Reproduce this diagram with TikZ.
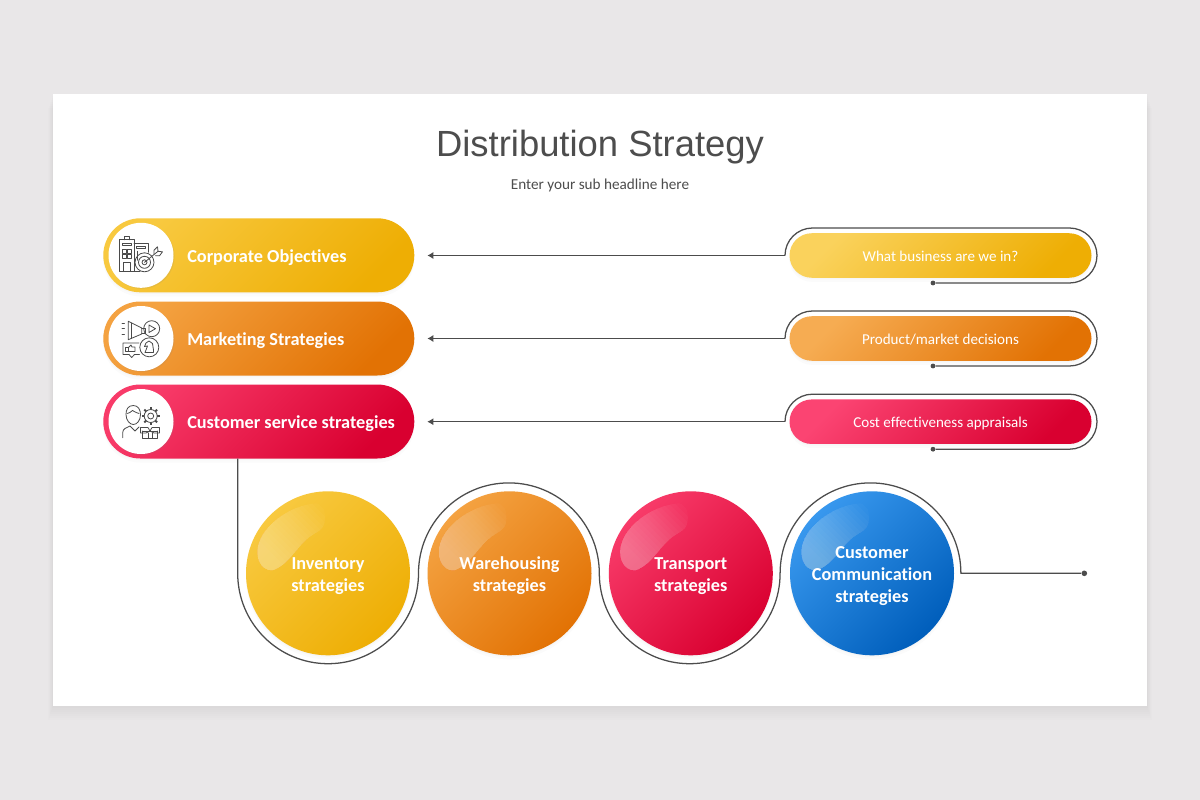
\documentclass[tikz,border=0pt]{standalone}
\usepackage{fontspec}
\setmainfont[Ligatures=NoCommon]{Carlito}
\newfontfamily\titlefont{Liberation Sans}
\usetikzlibrary{arrows.meta,shapes.misc,shadows}
\definecolor{pagegrey}{HTML}{E9E7E8}
\definecolor{wiregrey}{HTML}{4C4C4C}
\definecolor{inkgrey}{HTML}{4A4A4A}
\definecolor{titlegrey}{HTML}{4D4D4D}
\definecolor{yellow1}{HTML}{FAD25C}
\definecolor{yellow2}{HTML}{EEAE04}
\definecolor{yellow3}{HTML}{F8C93F}
\definecolor{orange1}{HTML}{F6AC52}
\definecolor{orange2}{HTML}{E27204}
\definecolor{orange3}{HTML}{F4A241}
\definecolor{red1}{HTML}{FB4472}
\definecolor{red2}{HTML}{D90030}
\definecolor{red3}{HTML}{F83B69}
\definecolor{blue2}{HTML}{005EBB}
\definecolor{blue3}{HTML}{3898EE}
\tikzset{
	softshadow/.style={drop shadow={opacity=.035,shadow xshift=0pt,shadow yshift=-1.2pt},drop shadow={opacity=.03,shadow xshift=0pt,shadow yshift=-3pt}},
	yellowfill/.style={top color=yellow1,bottom color=yellow2,shading angle=45},
	orangefill/.style={top color=orange1,bottom color=orange2,shading angle=45},
	redfill/.style={top color=red1,bottom color=red2,shading angle=45},
	yellowdeep/.style={top color=yellow3,bottom color=yellow2,shading angle=45},
	orangedeep/.style={top color=orange3,bottom color=orange2,shading angle=45},
	reddeep/.style={top color=red3,bottom color=red2,shading angle=45},
	bluedeep/.style={top color=blue3,bottom color=blue2,shading angle=45},
	bigpill/.style={rounded rectangle,minimum width=233.25pt,minimum height=55.5pt,inner sep=0pt,softshadow},
	smallpill/.style={rounded rectangle,minimum width=226.5pt,minimum height=33.4pt,inner sep=0pt,softshadow,text=white,text height=9.5pt,text depth=1pt,font=\fontsize{11.3}{13}\selectfont},
	pilltext/.style={anchor=west,inner sep=0pt,text=white,text height=12pt,text depth=1pt,font=\bfseries\fontsize{13.7}{16}\selectfont},
	iconback/.style={circle,fill=white,minimum size=48.75pt,inner sep=0pt,drop shadow={opacity=.12,shadow xshift=.8pt,shadow yshift=-.8pt}},
	ball/.style={circle,minimum size=123pt,inner sep=0pt,softshadow,
		path picture={
			\begin{scope}[shift={(path picture bounding box.center)}]
				\clip (-12,-70) .. controls (-40,-68) and (-70,-45) .. (-70.7,-22)
					.. controls (-71,-8) and (-62,-2) .. (-55,-3)
					.. controls (-40,-8) and (-32,-25) .. (-20,-35)
					.. controls (-12,-42) and (-3,-42) .. (-3,-55)
					.. controls (-3,-64) and (-6,-70) .. (-12,-70) -- cycle;
				\foreach \c in {60,54,...,-36}
					\fill[white,opacity=.024] ({\c-100},-100) -- ({\c+50},50) -- (-300,50) -- (-300,-100) -- cycle;
			\end{scope}
		}},
	balltext/.style={inner sep=0pt,align=center,text=white,yshift=-3.4pt,execute at begin node=\strut,font=\bfseries\fontsize{13.7}{16.5}\selectfont},
	wire/.style={wiregrey,line width=.95pt},
	enddot/.style={circle,fill=wiregrey,inner sep=0pt,minimum size=3.6pt},
	iconline/.style={inkgrey,line width=.6pt,line join=round,line cap=round}
}
\begin{document}
\begin{tikzpicture}[x=.75pt,y=-.75pt]
	\useasboundingbox (0,0) rectangle (1200,800);
	\fill[pagegrey] (0,0) rectangle (1200,800);
	\foreach \d in {14,12,...,2}
		\fill[black,opacity=.008] ({53-\d/3},{94+\d}) rectangle ({1147+\d/3},{706+\d});
	\fill[white] (53,94) rectangle (1147,706);

	% headline
	\node[inner sep=0pt,text=titlegrey,font=\titlefont\fontsize{27.3}{32}\selectfont] (headline) at (600,147) {Distribution Strategy};
	\node[inner sep=0pt,text=titlegrey,font=\fontsize{11.4}{13}\selectfont] (subheadline) at (600,185) {Enter your sub headline here};

	% left column
	\node[bigpill,yellowdeep] (corporate) at (258.8,255.3) {};
	\node[bigpill,orangedeep] (marketing) at (258.8,338.5) {};
	\node[bigpill,reddeep] (service) at (258.8,421.5) {};
	\node[iconback] (corporateicon) at (141,255.3) {};
	\node[iconback] (marketingicon) at (141,338.5) {};
	\node[iconback] (serviceicon) at (141,421.5) {};
	\node[pilltext] (corporatetext) at (187,255.3) {Corporate Objectives};
	\node[pilltext] (marketingtext) at (187,338.5) {Marketing Strategies};
	\node[pilltext] (servicetext) at (187,421.5) {Customer service strategies};

	% building and target
	\begin{scope}[shift={(corporateicon.center)},iconline]
		\draw (-21.5,16) -- (-21.5,-15.5) -- (-7,-15.5) -- (-7,16) -- cycle;
		\draw (-17,-15.5) -- (-17,-19) -- (-12,-19) -- (-12,-15.5);
		\draw (-19,-12) rectangle (-10,-9.5);
		\draw (-19,-6) rectangle (-15,-2);
		\draw (-14,-6) rectangle (-10,-2);
		\draw (-19,-1) rectangle (-15,3);
		\draw (-14,-1) rectangle (-10,3);
		\draw (-18,16) -- (-18,7) -- (-11,7) -- (-11,16);
		\draw (-7,-12) -- (7,-12) -- (7,-3);
		\draw (-4.5,-9) rectangle (4.5,-6.5);
		\draw (-7,16) -- (-1,16);
		\draw (-4,-4) -- (-4,5);
		\draw (3.5,7) circle[radius=9.5];
		\draw (3.5,7) circle[radius=6];
		\draw (3.5,7) circle[radius=2.5];
		\draw (3.5,7) -- (17,-4);
		\draw (13,-1) -- (13,-5) -- (16.5,-8.5) -- (17,-4);
		\draw (14.5,.5) -- (18.5,.5) -- (21.5,-3.5) -- (17,-4);
	\end{scope}

	% megaphone, play button, chat and knight
	\begin{scope}[shift={(marketingicon.center)},iconline]
		\draw (-12.7,-17.2) -- (.7,-10.5) -- (.7,-4.5) -- (-12.7,1.2) -- cycle;
		\draw (-9.5,-15.5) -- (-9.5,0);
		\draw (.7,-10) -- (4,-10) -- (4,-5) -- (.7,-5);
		\draw (-19,-15.5) -- (-16.5,-15.5);
		\draw (-19,-9.8) -- (-16.5,-9.8);
		\draw (-19,-3.8) -- (-16.5,-3.8);
		\draw (10.7,-9.8) circle[radius=8];
		\draw (8,-13.5) -- (14.5,-9.8) -- (8,-6) -- cycle;
		\draw (8.3,8.8) circle[radius=9.5];
		\draw (4,14) -- (12.5,14) -- (12.5,11.5) -- (11.5,5) -- (8,2.5) -- (5,4.5) -- (3.5,8) -- (6.5,7.5) -- (5,11.5) -- (4,14) -- cycle;
		\draw (-1.5,16) -- (-6.5,16) -- (-9.3,19) -- (-12,16) -- (-18,16) -- (-18,4.5) -- (-2,4.5);
		\draw (-15.5,13) rectangle (-13,8.5);
		\draw (-12.5,9) -- (-10,6.5) -- (-9,8.5) -- (-6,8.5) -- (-6,13) -- (-12.5,13);
	\end{scope}

	% person, gear and parcel
	\begin{scope}[shift={(serviceicon.center)},iconline]
		\draw (-7.7,-16) .. controls (-13,-16) and (-15,-12) .. (-15,-7) .. controls (-15,-1) and (-11,3) .. (-7.7,3) .. controls (-4,3) and (-.5,-1) .. (-.5,-7) .. controls (-.5,-12) and (-3,-16) .. (-7.7,-16) -- cycle;
		\draw (-13.5,-8) .. controls (-12,-8) and (-10,-10) .. (-8.5,-11) .. controls (-6,-10) and (-4,-8) .. (-2,-8);
		\draw (-18.3,16.2) -- (-18.3,11) .. controls (-18.3,7) and (-14,6) .. (-11,4.5) -- (-6,9.5) -- (-2,5.5);
		\draw (9.7,-5.5) circle[radius=6.5];
		\draw (9.7,-5.5) circle[radius=3];
		\foreach \a in {0,45,...,315}
			\draw[line width=1.5pt,line cap=butt] (9.7,-5.5) ++(\a:6.5) -- ++(\a:2.5);
		\draw (1.7,9.5) -- (1.7,16.8) -- (16.3,16.8) -- (16.3,9.5);
		\draw (1.7,9.5) -- (16.3,9.5);
		\draw (-.5,6) -- (7,6) -- (9,9.5) -- (5,11.5) -- (-.5,11.5) -- cycle;
		\draw (18.5,6) -- (11,6) -- (9,9.5) -- (13,11.5) -- (18.5,11.5) -- cycle;
		\draw (7,11.5) -- (7,16.8);
		\draw (11,11.5) -- (11,16.8);
	\end{scope}

	% right column
	\node[smallpill,yellowfill] (business) at (940.5,255.5) {What business are we in?};
	\node[smallpill,orangefill] (decisions) at (940.5,338.5) {Product/market decisions};
	\node[smallpill,redfill] (appraisals) at (940.5,421.7) {Cost effectiveness appraisals};
	\node[enddot] (businessdot) at (933,283) {};
	\node[enddot] (decisionsdot) at (933,366) {};
	\node[enddot] (appraisalsdot) at (933,449.2) {};
	\coordinate (businessring) at (785,255.5);
	\coordinate (decisionsring) at (785,338.5);
	\coordinate (appraisalsring) at (785,421.7);
	\draw[wire] (businessring) arc[start angle=180,end angle=270,radius=27.5] -- (1069.5,228) arc[start angle=270,end angle=450,radius=27.5] -- (businessdot);
	\draw[wire] (decisionsring) arc[start angle=180,end angle=270,radius=27.5] -- (1069.5,311) arc[start angle=270,end angle=450,radius=27.5] -- (decisionsdot);
	\draw[wire] (appraisalsring) arc[start angle=180,end angle=270,radius=27.5] -- (1069.5,394.2) arc[start angle=270,end angle=450,radius=27.5] -- (appraisalsdot);
	\draw[wire,-{Latex[length=4.6pt,width=5.4pt]},shorten >=9.5pt] (businessring) -- (corporate.east |- businessring);
	\draw[wire,-{Latex[length=4.6pt,width=5.4pt]},shorten >=9.5pt] (decisionsring) -- (marketing.east |- decisionsring);
	\draw[wire,-{Latex[length=4.6pt,width=5.4pt]},shorten >=9.5pt] (appraisalsring) -- (service.east |- appraisalsring);

	% strategy balls
	\node[ball,yellowdeep] (inventory) at (328,573.3) {};
	\node[ball,orangedeep] (warehousing) at (509.5,573.3) {};
	\node[ball,reddeep] (transport) at (690.8,573.3) {};
	\node[ball,bluedeep] (communication) at (872,573.3) {};
	\node[balltext] (inventorytext) at (inventory.center) {Inventory\\strategies};
	\node[balltext] (warehousingtext) at (warehousing.center) {Warehousing\\strategies};
	\node[balltext] (transporttext) at (transport.center) {Transport\\strategies};
	\node[balltext] (communicationtext) at (communication.center) {Customer\\Communication\\strategies};

	\coordinate (snakestart) at (237.7,458.5);
	\node[enddot,minimum size=4.2pt] (snakedot) at (1084.3,573.3) {};
	\draw[wire] (snakestart) -- (237.7,573.3) arc[start angle=180,end angle=0,radius=90.4]
		arc[start angle=180,end angle=360,radius=90.4]
		arc[start angle=180,end angle=0,radius=90.4]
		arc[start angle=180,end angle=360,radius=90.4] -- (snakedot);
\end{tikzpicture}
\end{document}
